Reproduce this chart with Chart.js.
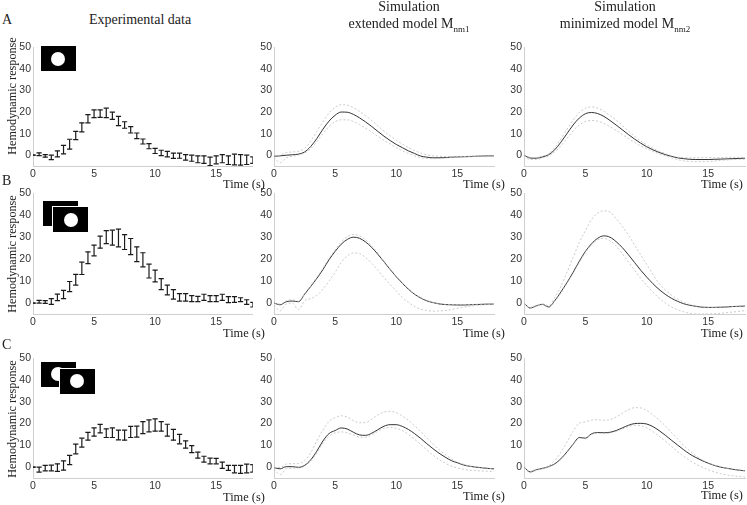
<!DOCTYPE html>
<html>
<head>
<meta charset="utf-8">
<title>Hemodynamic response</title>
<script src="https://cdn.jsdelivr.net/npm/chart.js@4"></script>
<style>
  html, body { margin: 0; padding: 0; background: #fff; }
  #page { position: relative; width: 747px; height: 505px; overflow: hidden; }
  canvas { position: absolute; }
  .txt { position: absolute; font-family: "Liberation Serif", serif; font-size: 14px; line-height: 16px; color: #222; white-space: nowrap; }
  .txt sub { font-size: 9px; line-height: 0; }
  .mid { transform: translateX(-50%); }
  .ylab { font-size: 12.2px; transform: translate(-50%, -50%) rotate(-90deg); }
  .time { font-size: 12.4px; }
  .card { position: absolute; background: #000; box-sizing: content-box; }
  .front { border: 1px solid #fff; margin: -1px; }
  .dot { position: absolute; width: 14px; height: 14px; border-radius: 50%; background: #fff; }
</style>
</head>
<body>
<div id="page"></div>
<script>
const timeTicks = [0, 5, 10, 15];
const responseTicks = [0, 10, 20, 30, 40, 50];

// every curve and error bar is sampled each half second
const times = [0, 0.5, 1, 1.5, 2, 2.5, 3, 3.5, 4, 4.5, 5, 5.5, 6, 6.5, 7, 7.5, 8, 8.5, 9, 9.5, 10, 10.5, 11, 11.5, 12, 12.5, 13, 13.5, 14, 14.5, 15, 15.5, 16, 16.5, 17, 17.5, 18];

// experimental data, low and high end of each error bar
const expHighA = [0, 1.1, 0.3, 0, 2, 4.6, 7.4, 11, 15, 18.8, 21, 21, 21.8, 20, 18, 15.5, 13.2, 10.3, 7.5, 5.4, 3.2, 2.3, 1.8, 1, 1, 0.3, 0, -0.3, -0.3, -0.9, -0.3, 0.3, -0.3, 0.5, 0.3, 0, -0.8];
const expLowA = [0, -0.2, -0.9, -2, -0.8, 0.6, 2.8, 7.2, 10.8, 15, 17.4, 17.5, 17.4, 16.6, 13.7, 12.5, 10.3, 7.7, 5.2, 3, 0.8, -0.2, -0.8, -1.5, -1.4, -2.3, -2.8, -3.5, -3.8, -4.8, -4, -3.5, -4.3, -4.5, -4.6, -4.3, -3.8];
const expHighB = [0, 1.2, 1.1, 2, 4.1, 5.8, 9.8, 13.1, 18.6, 23.3, 26.4, 30.5, 33, 33.2, 33.7, 31.2, 29.4, 25.6, 22.9, 17.7, 15, 11.1, 8.2, 6.1, 4.3, 4.3, 3.4, 3, 4, 3.4, 3.4, 4, 2.9, 2.9, 2.4, 1.5, 0.3];
const expLowB = [0, 0, -0.2, -0.6, 1.1, 2, 5.2, 8.2, 13, 18, 21.5, 25, 27.1, 26.4, 25.6, 24.4, 22.1, 18.9, 16.5, 11.4, 9.6, 6.1, 3.7, 1.8, 0.9, 0.9, 0.6, 0.6, 1.2, 0.6, 0.6, 1.2, 0.2, 0.3, 0.6, -0.6, -1.8];
const expHighC = [0, 0, 0.8, 0.9, 1.5, 2.9, 5.4, 10.6, 13.3, 16, 18, 19.6, 17.6, 18, 17, 17, 18.7, 18.8, 20.9, 21.7, 22.2, 20.9, 19.7, 17.3, 15, 12.1, 9.9, 6.9, 5, 4.1, 4, 2.3, 0.8, 0.8, 0.8, 1.4, 1.1];
const expLowC = [0, -2.3, -1.7, -1.7, -2, -1.4, 1.1, 6.1, 9.2, 12.4, 14.2, 15.7, 13.6, 13.6, 12.5, 12.4, 13.6, 13.8, 15.4, 16.2, 16.5, 16.5, 14.2, 12.4, 10.7, 8.7, 6.7, 4.1, 2.3, 1.5, 1.5, -0.6, -1.5, -2.6, -2.9, -2.6, -2.3];

// extended model
const extMainA = [-0.5, -0.3, 0, 0.2, 0.5, 1.5, 4, 7.7, 12, 15.8, 18.5, 20, 19.9, 18.9, 17.3, 15.4, 13.3, 11, 8.8, 6.8, 5, 3.5, 2, 0.8, -0.4, -0.9, -1.2, -1.2, -1.1, -0.9, -0.8, -0.7, -0.6, -0.5, -0.4, -0.3, -0.3];
const extUpA = [-0.5, 0, 1.2, 1.5, 1.8, 3.2, 6.5, 11, 15.5, 19.5, 22.2, 23.4, 23.2, 22, 20.3, 18.3, 16, 13.6, 11.2, 9, 7, 5.2, 3.6, 2.2, 1, 0.2, -0.3, -0.5, -0.6, -0.6, -0.6, -0.6, -0.5, -0.4, -0.4, -0.3, -0.3];
const extLowA = [-1, -3.5, -1.2, -0.5, 0, 1, 3, 6.2, 10, 13.3, 15.5, 16.4, 16.4, 15.6, 14.2, 12.5, 10.7, 8.7, 6.8, 5.2, 3.5, 2, 0.8, -0.3, -1.1, -1.5, -1.6, -1.5, -1.3, -1.1, -1, -0.9, -0.8, -0.6, -0.5, -0.4, -0.4];
const extMainB = [0, -0.8, 0.6, 0.9, 0.6, 4, 7.5, 11.2, 15.2, 19.7, 23.5, 26.8, 29, 30, 29.5, 27.8, 25.3, 22.2, 18.8, 15.3, 12, 9, 6.3, 4, 2.3, 1, 0.2, -0.4, -0.7, -0.8, -0.9, -0.9, -0.8, -0.7, -0.6, -0.5, -0.5];
const extUpB = [0, -0.5, 1, 1.5, 0.8, 4.2, 7.8, 11.7, 15.8, 20.4, 24.3, 27.8, 30.2, 31.3, 30.6, 28.8, 26, 22.7, 19, 15.5, 12.2, 9.2, 6.5, 4.2, 2.5, 1.2, 0.3, -0.3, -0.6, -0.7, -0.8, -0.8, -0.7, -0.6, -0.5, -0.4, -0.4];
const extLowB = [-1, -3.5, -0.5, 0, -3, 1, 2, 3.5, 6.3, 10, 14, 18.5, 21.5, 22.8, 22.5, 20.7, 18, 15, 11.5, 8.5, 5.5, 2.5, 0.3, -1.5, -2.8, -3.4, -3.7, -3.6, -3.4, -3, -2.4, -1.9, -1.5, -1.1, -0.9, -0.7, -0.6];
const extMainC = [-0.2, -0.8, 0.2, 0.2, -0.1, 0.8, 3.3, 7.3, 12, 15.4, 16.8, 18, 17.5, 16, 14.8, 14.6, 15.6, 17.2, 18.8, 19.5, 19.5, 18.7, 17.3, 15.4, 13.2, 10.8, 8.5, 6.4, 4.6, 3, 2, 1, 0.4, 0, -0.3, -0.6, -0.8];
const extUpC = [-0.2, -0.2, 1.4, 1.6, 1.6, 3, 6.5, 12, 17, 21, 22.7, 23.6, 23, 21.3, 20.4, 20.5, 22, 24, 25.3, 25.6, 25, 23.5, 21.5, 19, 16.3, 13.5, 10.8, 8, 5.8, 3.8, 2.3, 1.3, 0.5, 0.1, -0.2, -0.5, -0.8];
const extLowC = [-1, -3.5, -0.8, -0.5, -0.4, 0.4, 2.8, 6.5, 11, 14.2, 15.7, 16.2, 15.7, 14.8, 13.8, 13.7, 14.8, 16.5, 17.8, 18.2, 17.8, 16.8, 15, 12.8, 10.4, 8, 5.5, 3.5, 1.8, 0.5, -0.4, -1, -1.4, -1.6, -1.8, -1.9, -2];

// minimized model
const minMainA = [0, -1.3, -1.4, -0.8, 0.2, 2.5, 6, 10, 14, 17.2, 19.2, 19.8, 19.3, 18, 16.1, 14, 11.8, 9.6, 7.5, 5.6, 3.9, 2.5, 1.3, 0.3, -0.5, -1.2, -1.6, -1.9, -2, -2, -2, -1.9, -1.8, -1.7, -1.6, -1.5, -1.4];
const minUpA = [0, -1, -1.2, -0.4, 0.6, 3.5, 7.5, 12, 16.2, 19.8, 21.8, 22.4, 21.8, 20.4, 18.4, 16.2, 13.8, 11.2, 8.8, 6.6, 4.8, 3.2, 1.9, 0.8, -0.2, -0.9, -1.1, -1.2, -1.2, -1.1, -1.1, -1.1, -1.1, -1, -1, -1, -1];
const minLowA = [-0.2, -2, -2, -1.3, -0.3, 1.5, 4.3, 7.8, 11.3, 14, 15.6, 16.1, 15.8, 14.7, 13.2, 11.5, 9.6, 7.7, 6, 4.3, 3, 1.7, 0.7, -0.3, -1.2, -2, -2.6, -2.9, -3, -3, -2.9, -2.7, -2.4, -2.2, -2, -1.9, -1.8];
const minMainB = [0, -2.3, -1.3, -0.6, -1.8, 1, 5, 9.3, 14, 19, 23.5, 27, 29.5, 30.6, 30, 28, 25.3, 22, 18.5, 15, 11.8, 8.8, 6.2, 4, 2.2, 0.8, -0.3, -1, -1.5, -1.9, -2, -2, -1.9, -1.8, -1.6, -1.5, -1.4];
const minUpB = [0, -2, -1, -0.4, -1.2, 2.5, 7.5, 14, 20.8, 27.5, 33, 38, 41, 42, 41.5, 38.5, 35, 31, 26.5, 22, 17.5, 13, 9, 6, 3.7, 1.8, 0.3, -0.7, -1.4, -1.9, -2, -2, -1.9, -1.8, -1.6, -1.5, -1.4];
const minLowB = [0, -2.5, -1.5, -0.8, -2, 0.8, 4.5, 9, 13.5, 18.5, 23, 26.5, 28.8, 29.5, 28.3, 26, 22.5, 18.8, 15, 11.3, 8, 5, 2.2, 0, -1.7, -3, -4, -4.7, -5, -5, -5, -4.9, -4.7, -4.4, -4.1, -3.8, -3.5];
const minMainC = [0, -2.2, -1.2, -0.6, 0.2, 1.5, 3.8, 7, 10.5, 13.6, 13.3, 15.3, 15.9, 15.8, 16, 16.8, 18, 19.2, 20, 20.1, 19.8, 18.6, 16.8, 14.7, 12.4, 10.2, 8, 6, 4.4, 3, 1.8, 0.8, 0, -0.5, -1, -1.4, -1.7];
const minUpC = [0, -2, -1, -0.4, 0.6, 3, 6.8, 11.5, 16.5, 20.2, 20.8, 21.6, 21.8, 21.5, 21.8, 23, 24.7, 26.3, 27.3, 27.2, 26, 24, 21.7, 19, 16, 13, 10, 7.5, 5.2, 3.4, 2, 0.9, 0, -0.5, -1, -1.4, -1.7];
const minLowC = [-0.2, -2.6, -1.5, -0.8, 0, 1.3, 3.5, 6.7, 10.2, 13.3, 13, 15, 15.6, 15.5, 15.7, 16.4, 17.5, 18.6, 19.2, 19, 18, 16.3, 14.2, 12, 9.6, 7.2, 5, 3, 1.4, 0, -1.2, -2.2, -3, -3.6, -4, -4.3, -4.5];

const page = document.getElementById('page');

const AXIS_W = 30;
const AXIS_H = 22;
const PAD = 8;

function toPoints(values) {
  return times.map((t, i) => ({ x: t, y: values[i] }));
}

// low/high pairs split by a gap, the point style makes the caps
function errorPoints(low, high) {
  const pts = [];
  times.forEach((t, i) => {
    pts.push({ x: t, y: low[i] }, { x: t, y: high[i] }, { x: t, y: null });
  });
  return pts;
}

function errorSet(low, high) {
  return {
    data: errorPoints(low, high),
    showLine: true,
    spanGaps: false,
    borderColor: '#1a1a1a',
    borderWidth: 1.2,
    pointStyle: 'line',
    pointRadius: 2.6,
    pointBorderColor: '#1a1a1a',
    pointBorderWidth: 1.2,
  };
}

function curveSets(main, up, low) {
  const dashed = (values) => ({
    data: toPoints(values),
    showLine: true,
    pointRadius: 0,
    borderColor: '#bdbdbd',
    borderWidth: 0.8,
    borderDash: [2, 2],
    cubicInterpolationMode: 'monotone',
  });
  return [
    dashed(up),
    dashed(low),
    {
      data: toPoints(main),
      showLine: true,
      pointRadius: 0,
      borderColor: '#333',
      borderWidth: 1,
      cubicInterpolationMode: 'monotone',
    },
  ];
}

function panel(left, right, top, bottom, datasets) {
  const canvas = document.createElement('canvas');
  const w = AXIS_W + (right - left) + 4;
  const h = PAD + (bottom - top) + AXIS_H;
  canvas.width = w;
  canvas.height = h;
  canvas.style.left = (left - AXIS_W) + 'px';
  canvas.style.top = (top - PAD) + 'px';
  canvas.style.width = w + 'px';
  canvas.style.height = h + 'px';
  page.appendChild(canvas);

  const tickFont = { family: '"Liberation Sans", sans-serif', size: 10.5 };

  new Chart(canvas.getContext('2d'), {
    type: 'scatter',
    data: { datasets: datasets },
    options: {
      responsive: false,
      animation: false,
      events: [],
      layout: { padding: { top: PAD, right: 4, left: 0, bottom: 0 } },
      plugins: { legend: { display: false }, tooltip: { enabled: false } },
      scales: {
        x: {
          type: 'linear',
          min: 0,
          max: 18,
          afterFit: (scale) => { scale.height = AXIS_H; },
          afterBuildTicks: (scale) => { scale.ticks = timeTicks.map((v) => ({ value: v })); },
          grid: { display: false, drawTicks: false },
          border: { color: '#cfcfcf', width: 1 },
          ticks: { color: '#333', font: tickFont, padding: 2, maxRotation: 0, includeBounds: false },
        },
        y: {
          type: 'linear',
          min: -5,
          max: 50,
          afterFit: (scale) => { scale.width = AXIS_W; },
          afterBuildTicks: (scale) => { scale.ticks = responseTicks.map((v) => ({ value: v })); },
          grid: { display: false, drawTicks: false },
          border: { color: '#cfcfcf', width: 1 },
          ticks: { color: '#333', font: tickFont, padding: 2, includeBounds: false },
        },
      },
    },
  });
}

const rowA = [47, 166];
const rowB = [193, 314];
const rowC = [358, 478];
const col1 = [33, 254];
const col2 = [274, 494];
const col3 = [524, 745];

panel(col1[0], col1[1], rowA[0], rowA[1], [errorSet(expLowA, expHighA)]);
panel(col1[0], col1[1], rowB[0], rowB[1], [errorSet(expLowB, expHighB)]);
panel(col1[0], col1[1], rowC[0], rowC[1], [errorSet(expLowC, expHighC)]);
panel(col2[0], col2[1], rowA[0], rowA[1], curveSets(extMainA, extUpA, extLowA));
panel(col2[0], col2[1], rowB[0], rowB[1], curveSets(extMainB, extUpB, extLowB));
panel(col2[0], col2[1], rowC[0], rowC[1], curveSets(extMainC, extUpC, extLowC));
panel(col3[0], col3[1], rowA[0], rowA[1], curveSets(minMainA, minUpA, minLowA));
panel(col3[0], col3[1], rowB[0], rowB[1], curveSets(minMainB, minUpB, minLowB));
panel(col3[0], col3[1], rowC[0], rowC[1], curveSets(minMainC, minUpC, minLowC));

function label(html, x, y, cls) {
  const el = document.createElement('div');
  el.className = 'txt' + (cls ? ' ' + cls : '');
  el.style.left = x + 'px';
  el.style.top = y + 'px';
  el.innerHTML = html;
  page.appendChild(el);
}

label('A', 2, 12);
label('B', 2, 173);
label('C', 2, 337);
label('Experimental data', 140, 12, 'mid');
label('Simulation', 409, -1, 'mid');
label('extended model M<sub>nm1</sub>', 409, 16, 'mid');
label('Simulation', 625, -1, 'mid');
label('minimized model M<sub>nm2</sub>', 625, 16, 'mid');

[96, 254, 419].forEach((y) => label('Hemodynamic response', 12, y, 'ylab'));

[[223, 176], [223, 325], [223, 489], [463, 176], [463, 325], [463, 488], [701, 176], [701, 325], [701, 487]]
  .forEach((p) => label('Time (s)', p[0], p[1], 'time'));

// stimulus icons in the experimental panels
function card(x, y, dotX, dotY, front) {
  const el = document.createElement('div');
  el.className = 'card' + (front ? ' front' : '');
  el.style.left = x + 'px';
  el.style.top = y + 'px';
  el.style.width = '35px';
  el.style.height = '25px';
  page.appendChild(el);
  if (dotX !== null) {
    const d = document.createElement('div');
    d.className = 'dot';
    d.style.left = (dotX - x - 7) + 'px';
    d.style.top = (dotY - y - 7) + 'px';
    el.appendChild(d);
  }
}

card(41, 46, 58, 59, false);
card(43, 201, null, null, false);
card(53, 207, 71, 220, true);
card(41, 362, 58, 374, false);
card(60, 369, 77, 381, true);
</script>
</body>
</html>
